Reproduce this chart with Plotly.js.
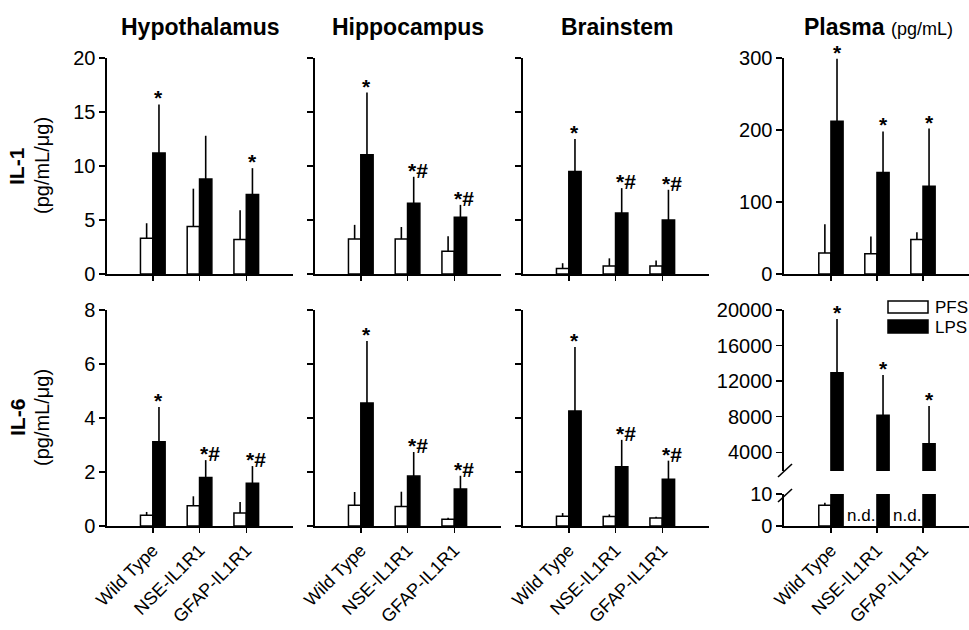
<!DOCTYPE html>
<html>
<head>
<meta charset="utf-8">
<script src="https://cdn.plot.ly/plotly-3.0.1.min.js"></script>
<style>html,body{margin:0;padding:0;background:#fff;}#chart{width:969px;height:630px;}</style>
</head>
<body>
<div id="chart"></div>
<script>
// ---- Data ----
const categories = ['Wild Type', 'NSE-IL1R1', 'GFAP-IL1R1'];
const panelTitles = ['Hypothalamus', 'Hippocampus', 'Brainstem', 'Plasma'];

// IL-1 (pg/mL/µg; plasma pg/mL)
const hypoIL1_PFS = [3.3, 4.4, 3.2];      const hypoIL1_PFS_sd = [1.4, 3.5, 2.7];
const hypoIL1_LPS = [11.2, 8.8, 7.35];    const hypoIL1_LPS_sd = [4.5, 4.0, 2.45];
const hippoIL1_PFS = [3.25, 3.25, 2.1];   const hippoIL1_PFS_sd = [1.3, 1.1, 1.4];
const hippoIL1_LPS = [11.05, 6.55, 5.25]; const hippoIL1_LPS_sd = [5.75, 2.45, 1.15];
const brainIL1_PFS = [0.5, 0.75, 0.75];   const brainIL1_PFS_sd = [0.5, 0.7, 0.5];
const brainIL1_LPS = [9.5, 5.65, 5.0];    const brainIL1_LPS_sd = [3.0, 2.3, 2.8];
const plasmaIL1_PFS = [29, 28, 48];       const plasmaIL1_PFS_sd = [40, 24, 10];
const plasmaIL1_LPS = [212, 141, 122];    const plasmaIL1_LPS_sd = [87, 57, 80];

// IL-6
const hypoIL6_PFS = [0.4, 0.75, 0.48];    const hypoIL6_PFS_sd = [0.12, 0.35, 0.41];
const hypoIL6_LPS = [3.12, 1.8, 1.58];    const hypoIL6_LPS_sd = [1.29, 0.64, 0.64];
const hippoIL6_PFS = [0.77, 0.72, 0.25];  const hippoIL6_PFS_sd = [0.49, 0.55, 0.06];
const hippoIL6_LPS = [4.56, 1.85, 1.37];  const hippoIL6_LPS_sd = [2.29, 0.89, 0.49];
const brainIL6_PFS = [0.36, 0.35, 0.3];   const brainIL6_PFS_sd = [0.12, 0.08, 0.04];
const brainIL6_LPS = [4.26, 2.19, 1.73];  const brainIL6_LPS_sd = [2.37, 1.0, 0.69];
const plasmaIL6_PFS = [6.5, null, null];  const plasmaIL6_PFS_sd = [0.8, null, null];
const plasmaIL6_LPS = [12950, 8180, 4970]; const plasmaIL6_LPS_sd = [6040, 4500, 4230];

// significance labels (LPS bars)
const sigIL1 = [['*', '', '*'], ['*', '*#', '*#'], ['*', '*#', '*#'], ['*', '*', '*']];
const sigIL6 = [['*', '*#', '*#'], ['*', '*#', '*#'], ['*', '*#', '*#'], ['*', '*', '*']];
const ndLabel = 'n.d.';

// tick labels
const il1Ticks = [[0, 5, 10, 15, 20], [0, 5, 10, 15, 20], [0, 5, 10, 15, 20], [0, 100, 200, 300]];
const il1TickLabelsShown = [true, false, false, true];
const il6Ticks = [0, 2, 4, 6, 8];
const il6TickLabelsShown = [true, false, false];
const plasmaIL6UpperTicks = [4000, 8000, 12000, 16000, 20000];
const plasmaIL6UpperTickText = ['4000', '8000', '12000', '16000', '20000'];
const plasmaIL6LowerTicks = [0, 10];

// ---- Layout helpers ----
const W = 969, H = 630;
const FONT = 'Liberation Sans, Arial, Helvetica, sans-serif';
const px = v => v / W;
const py = v => 1 - v / H;
const colDom = [[107, 293], [315, 501], [523, 709], [784, 969]];
const colRange = [[-0.98, 3.0], [-0.98, 3.0], [-0.98, 3.0], [-1.02, 3.0]];
const topRow = [58, 274], botRow = [310, 526];
const BW = 0.264;

const traces = [];
function addPair(xa, ya, pfs, pfsSd, lps, lpsSd) {
  traces.push({
    type: 'bar', name: 'PFS', x: [0, 1, 2], y: pfs, xaxis: xa, yaxis: ya,
    width: BW, offset: -BW, showlegend: false,
    marker: {color: '#ffffff', line: {color: '#000', width: 1.5}},
    error_y: {type: 'data', symmetric: false, array: pfsSd, arrayminus: pfsSd.map(v => v == null ? null : 0),
              color: '#000', thickness: 1.6, width: 0}
  });
  traces.push({
    type: 'bar', name: 'LPS', x: [0, 1, 2], y: lps, xaxis: xa, yaxis: ya,
    width: BW, offset: 0, showlegend: false,
    marker: {color: '#000000', line: {color: '#000', width: 1.5}},
    error_y: {type: 'data', symmetric: false, array: lpsSd, arrayminus: lpsSd.map(() => 0),
              color: '#000', thickness: 1.6, width: 0}
  });
}

const il1 = [
  [hypoIL1_PFS, hypoIL1_PFS_sd, hypoIL1_LPS, hypoIL1_LPS_sd],
  [hippoIL1_PFS, hippoIL1_PFS_sd, hippoIL1_LPS, hippoIL1_LPS_sd],
  [brainIL1_PFS, brainIL1_PFS_sd, brainIL1_LPS, brainIL1_LPS_sd],
  [plasmaIL1_PFS, plasmaIL1_PFS_sd, plasmaIL1_LPS, plasmaIL1_LPS_sd]
];
const il6 = [
  [hypoIL6_PFS, hypoIL6_PFS_sd, hypoIL6_LPS, hypoIL6_LPS_sd],
  [hippoIL6_PFS, hippoIL6_PFS_sd, hippoIL6_LPS, hippoIL6_LPS_sd],
  [brainIL6_PFS, brainIL6_PFS_sd, brainIL6_LPS, brainIL6_LPS_sd]
];

const layout = {
  width: W, height: H, margin: {l: 0, r: 0, t: 0, b: 0},
  paper_bgcolor: '#fff', plot_bgcolor: 'rgba(0,0,0,0)',
  barmode: 'overlay', showlegend: false,
  font: {family: FONT, color: '#000', size: 18},
  annotations: [], shapes: []
};

function axX(i, anchor, labels) {
  return {
    domain: [px(colDom[i][0]), px(colDom[i][1])], range: colRange[i], anchor: anchor,
    tickmode: 'array', tickvals: [0, 1, 2], ticktext: categories, showticklabels: labels,
    tickangle: -45, tickfont: {size: 18, family: FONT},
    ticks: 'outside', ticklen: 5, tickwidth: 1.5, tickcolor: '#000',
    showline: true, linecolor: '#000', linewidth: 1.6, showgrid: false, zeroline: false, fixedrange: true
  };
}
function axY(anchor, dom, range, ticks, showLabels, tickText) {
  const a = {
    domain: [py(dom[1]), py(dom[0])], range: range, anchor: anchor,
    tickmode: 'array', tickvals: ticks, showticklabels: showLabels,
    tickfont: {size: 20, family: FONT},
    ticks: 'outside', ticklen: 6, tickwidth: 1.5, tickcolor: '#000',
    showline: true, linecolor: '#000', linewidth: 1.6, showgrid: false, zeroline: false, fixedrange: true
  };
  if (tickText) a.ticktext = tickText;
  return a;
}
const il1Ranges = [[0, 20], [0, 20], [0, 20], [0, 300]];
for (let i = 0; i < 4; i++) {
  const n = i + 1;
  layout['xaxis' + n] = axX(i, 'y' + n, false);
  layout['yaxis' + n] = axY('x' + n, topRow, il1Ranges[i], il1Ticks[i], il1TickLabelsShown[i]);
  addPair('x' + n, 'y' + n, il1[i][0], il1[i][1], il1[i][2], il1[i][3]);
}
for (let i = 0; i < 3; i++) {
  const n = i + 5;
  layout['xaxis' + n] = axX(i, 'y' + n, true);
  layout['yaxis' + n] = axY('x' + n, botRow, [0, 8], il6Ticks, il6TickLabelsShown[i]);
  addPair('x' + n, 'y' + n, il6[i][0], il6[i][1], il6[i][2], il6[i][3]);
}
// Plasma IL-6 broken axis: lower (y8) and upper (y9)
layout.xaxis8 = axX(3, 'y8', true);
layout.yaxis8 = axY('x8', [494, 526], [0, 10], plasmaIL6LowerTicks, true, plasmaIL6LowerTicks.map(String));
layout.yaxis9 = axY('x8', [310, 471], [1900, 20000], plasmaIL6UpperTicks, true, plasmaIL6UpperTickText);
addPair('x8', 'y8', plasmaIL6_PFS, plasmaIL6_PFS_sd, plasmaIL6_LPS, plasmaIL6_LPS.map(() => 0));
addPair('x8', 'y9', plasmaIL6_PFS, plasmaIL6_PFS_sd, plasmaIL6_LPS, plasmaIL6_LPS_sd);

// break marks
const brk = {type: 'line', xref: 'paper', yref: 'paper', line: {color: '#000', width: 1.6}};
layout.shapes.push(Object.assign({}, brk, {x0: px(778), y0: py(477), x1: px(792), y1: py(464)}));
layout.shapes.push(Object.assign({}, brk, {x0: px(778), y0: py(502), x1: px(792), y1: py(489)}));

// legend swatches
layout.shapes.push({type: 'rect', xref: 'paper', yref: 'paper', x0: px(888), x1: px(928), y0: py(313), y1: py(301),
  fillcolor: '#fff', line: {color: '#000', width: 1.5}});
layout.shapes.push({type: 'rect', xref: 'paper', yref: 'paper', x0: px(888), x1: px(928), y0: py(333), y1: py(320),
  fillcolor: '#000', line: {color: '#000', width: 1.5}});
layout.annotations.push({xref: 'paper', yref: 'paper', x: px(934), y: py(307), text: 'PFS', showarrow: false,
  xanchor: 'left', yanchor: 'middle', borderpad: 0, font: {size: 17}});
layout.annotations.push({xref: 'paper', yref: 'paper', x: px(934), y: py(327), text: 'LPS', showarrow: false,
  xanchor: 'left', yanchor: 'middle', borderpad: 0, font: {size: 17}});

// significance annotations
function sigAnn(xa, ya, vals, sds, sigs) {
  for (let k = 0; k < 3; k++) {
    if (!sigs[k]) continue;
    layout.annotations.push({
      xref: xa, yref: ya, x: k + BW / 2, y: vals[k] + sds[k], text: '<b>' + sigs[k] + '</b>', showarrow: false,
      xanchor: 'center', yanchor: 'bottom', yshift: -7, xshift: sigs[k].length > 1 ? 4 : 0,
      font: {size: 21, family: FONT}
    });
  }
}
for (let i = 0; i < 4; i++) sigAnn('x' + (i + 1), 'y' + (i + 1), il1[i][2], il1[i][3], sigIL1[i]);
for (let i = 0; i < 3; i++) sigAnn('x' + (i + 5), 'y' + (i + 5), il6[i][2], il6[i][3], sigIL6[i]);
sigAnn('x8', 'y9', plasmaIL6_LPS, plasmaIL6_LPS_sd, sigIL6[3]);

// n.d. labels
for (let k = 0; k < 3; k++) {
  if (plasmaIL6_PFS[k] == null) {
    layout.annotations.push({xref: 'x8', yref: 'y8', x: k, y: 0, text: ndLabel, showarrow: false,
      xanchor: 'right', yanchor: 'bottom', yshift: -1, font: {size: 17}});
  }
}

// panel titles
const titleX = [200, 408, 617];
for (let i = 0; i < 3; i++) {
  layout.annotations.push({xref: 'paper', yref: 'paper', x: px(titleX[i]), y: py(27), text: '<b>' + panelTitles[i] + '</b>',
    showarrow: false, xanchor: 'center', yanchor: 'middle', font: {size: 23}});
}
layout.annotations.push({xref: 'paper', yref: 'paper', x: px(878), y: py(27),
  text: '<b>' + panelTitles[3] + '</b> <span style="font-size:18px">(pg/mL)</span>',
  showarrow: false, xanchor: 'center', yanchor: 'middle', font: {size: 23}});

// row titles
const rowCenters = [166, 418];
const rowNames = ['IL-1', 'IL-6'];
for (let r = 0; r < 2; r++) {
  layout.annotations.push({xref: 'paper', yref: 'paper', x: px(17), y: py(rowCenters[r]), text: '<b>' + rowNames[r] + '</b>',
    showarrow: false, textangle: -90, xanchor: 'center', yanchor: 'middle', font: {size: 21}});
  layout.annotations.push({xref: 'paper', yref: 'paper', x: px(42), y: py(rowCenters[r]), text: '(pg/mL/\u03bcg)',
    showarrow: false, textangle: -90, xanchor: 'center', yanchor: 'middle', font: {size: 20}});
}

Plotly.newPlot('chart', traces, layout, {staticPlot: true, displayModeBar: false});
</script>
</body>
</html>
